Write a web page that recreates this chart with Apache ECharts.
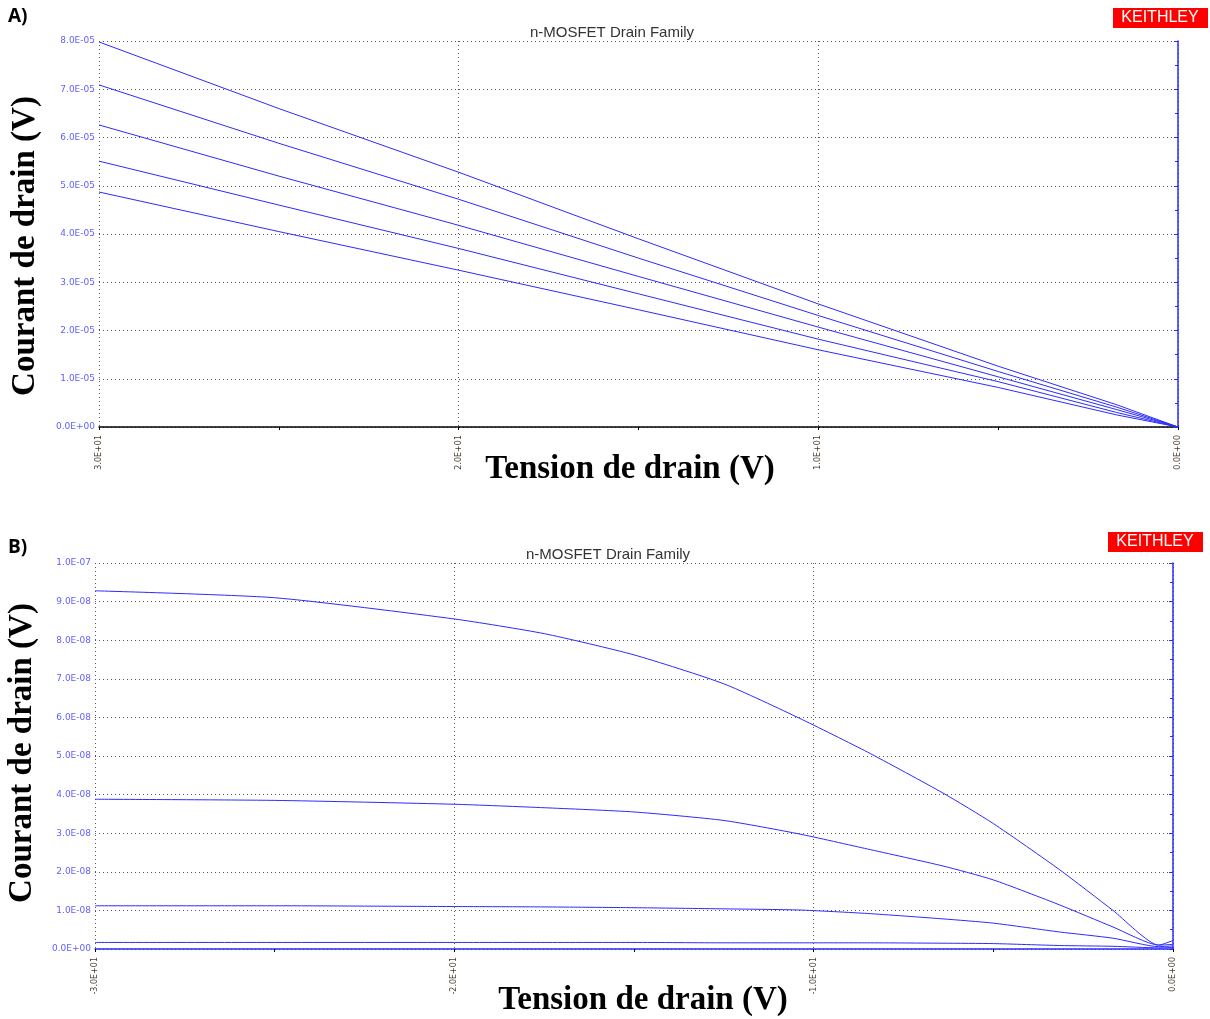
<!DOCTYPE html>
<html>
<head>
<meta charset="utf-8">
<script src="https://cdn.jsdelivr.net/npm/echarts@6/dist/echarts.min.js"></script>
<style>
html,body{margin:0;padding:0;background:#fff;}
#chart{width:1210px;height:1019px;}
</style>
</head>
<body>
<div id="chart"></div>
<script>
// ---------- Data ----------
const titleText = 'n-MOSFET Drain Family';
const yName = 'Courant de drain (V)';
const xName = 'Tension de drain (V)';

// Panel A (x axis shown reversed 30 -> 0)
const vdA = [30, 25, 20, 15, 10, 5, 1.7, 0];
const idA1 = [7.98e-5, 6.60e-5, 5.28e-5, 3.90e-5, 2.55e-5, 1.26e-5, 0.46e-5, 0];
const idA2 = [7.09e-5, 5.88e-5, 4.72e-5, 3.50e-5, 2.31e-5, 1.15e-5, 0.41e-5, 0];
const idA3 = [6.26e-5, 5.20e-5, 4.18e-5, 3.12e-5, 2.07e-5, 1.04e-5, 0.36e-5, 0];
const idA4 = [5.51e-5, 4.60e-5, 3.70e-5, 2.76e-5, 1.82e-5, 0.94e-5, 0.30e-5, 0];
const idA5 = [4.87e-5, 4.05e-5, 3.25e-5, 2.43e-5, 1.60e-5, 0.82e-5, 0.25e-5, 0];

// Panel B
const vdB = [-30, -25, -20, -17.5, -15, -12.5, -10.4, -8.5, -6.4, -5, -3.15, -1.67, -0.4, 0];
const idB1 = [9.28e-8, 9.10e-8, 8.55e-8, 8.17e-8, 7.62e-8, 6.87e-8, 5.98e-8, 5.10e-8, 4.04e-8, 3.25e-8, 2.05e-8, 1.00e-8, 0.10e-8, 0.22e-8];
const idB2 = [3.88e-8, 3.85e-8, 3.75e-8, 3.66e-8, 3.55e-8, 3.33e-8, 2.98e-8, 2.59e-8, 2.15e-8, 1.79e-8, 1.14e-8, 0.57e-8, 0.10e-8, 0.12e-8];
const idB3 = [1.12e-8, 1.12e-8, 1.10e-8, 1.09e-8, 1.07e-8, 1.04e-8, 1.01e-8, 0.92e-8, 0.78e-8, 0.67e-8, 0.44e-8, 0.28e-8, 0.06e-8, 0.08e-8];
const idB4 = [0.17e-8, 0.17e-8, 0.17e-8, 0.17e-8, 0.17e-8, 0.16e-8, 0.16e-8, 0.16e-8, 0.15e-8, 0.14e-8, 0.09e-8, 0.07e-8, 0.03e-8, 0.04e-8];

// ---------- Helpers ----------
function sci(v) {
  if (Math.abs(v) < 1e-20) return '0.0E+00';
  const s = v.toExponential(1);
  const parts = s.split('e');
  const e = parseInt(parts[1], 10);
  return parts[0] + 'E' + (e < 0 ? '-' : '+') + String(Math.abs(e)).padStart(2, '0');
}
function pairs(xs, ys) { return xs.map((x, i) => [x, ys[i]]); }

const LINE = '#2b2bff';
const DOT = { color: '#555', width: 1, type: [1, 3] };

function xAxisDef(gridIndex, min, max, inverse, lineColor) {
  return {
    type: 'value', gridIndex, min, max, interval: 10, inverse,
    axisLine: { show: true, onZero: false, lineStyle: { color: lineColor, width: 1.5 } },
    axisTick: { show: true, length: 3, lineStyle: { color: '#000' } },
    minorTick: { show: true, splitNumber: 2, length: 3, lineStyle: { color: '#000' } },
    splitLine: { show: true, lineStyle: DOT },
    axisLabel: { rotate: 90, margin: 8, fontSize: 8, color: '#4a3d30', fontFamily: 'DejaVu Sans', formatter: sci }
  };
}
function yLeftDef(gridIndex, max, interval) {
  return {
    type: 'value', gridIndex, min: 0, max, interval, position: 'left',
    axisLine: { show: false }, axisTick: { show: false },
    splitLine: { show: true, lineStyle: DOT },
    axisLabel: { margin: 4, fontSize: 9, color: '#6161ff', fontFamily: 'DejaVu Sans', formatter: sci }
  };
}
function yRightDef(gridIndex, max, interval) {
  return {
    type: 'value', gridIndex, min: 0, max, interval, position: 'right',
    axisLine: { show: true, lineStyle: { color: LINE, width: 1.5 } },
    axisTick: { show: true, inside: true, length: 4, lineStyle: { color: LINE } },
    minorTick: { show: true, splitNumber: 2, length: 3, lineStyle: { color: LINE } },
    axisLabel: { show: false }, splitLine: { show: false }
  };
}
function ser(x, y, data, smooth) {
  return { type: 'line', xAxisIndex: x, yAxisIndex: y, data, showSymbol: false, symbol: 'none',
    smooth: smooth || false, lineStyle: { color: LINE, width: 1 }, animation: false };
}

const option = {
  backgroundColor: '#fff',
  animation: false,
  grid: [
    { left: 99, top: 41, width: 1079, height: 386 },
    { left: 95, top: 563, width: 1078, height: 386 }
  ],
  xAxis: [
    xAxisDef(0, 0, 30, true, '#000'),
    xAxisDef(1, -30, 0, false, LINE)
  ],
  yAxis: [
    yLeftDef(0, 8e-5, 1e-5),
    yRightDef(0, 8e-5, 1e-5),
    yLeftDef(1, 1e-7, 1e-8),
    yRightDef(1, 1e-7, 1e-8)
  ],
  series: [
    ser(0, 0, pairs(vdA, idA1)),
    ser(0, 0, pairs(vdA, idA2)),
    ser(0, 0, pairs(vdA, idA3)),
    ser(0, 0, pairs(vdA, idA4)),
    ser(0, 0, pairs(vdA, idA5)),
    ser(1, 2, pairs(vdB, idB1), 0.2),
    ser(1, 2, pairs(vdB, idB2), 0.2),
    ser(1, 2, pairs(vdB, idB3), 0.2),
    ser(1, 2, pairs(vdB, idB4), 0.2)
  ],
  graphic: [
    { type: 'text', left: 8, top: 7, style: { text: 'A)', font: 'bold 19px "Open Sans", sans-serif', fill: '#000' } },
    { type: 'text', left: 8, top: 538, style: { text: 'B)', font: 'bold 19px "Open Sans", sans-serif', fill: '#000' } },
    { type: 'text', x: 612, y: 40, style: { text: titleText, font: '15px "Liberation Sans", Arial, sans-serif', fill: '#333',
        align: 'center', verticalAlign: 'bottom', backgroundColor: '#fff', padding: [0, 1, 0, 1] } },
    { type: 'text', x: 608, y: 562, style: { text: titleText, font: '15px "Liberation Sans", Arial, sans-serif', fill: '#333',
        align: 'center', verticalAlign: 'bottom', backgroundColor: '#fff', padding: [0, 1, 0, 1] } },
    { type: 'rect', shape: { x: 1113, y: 8, width: 95, height: 20 }, style: { fill: '#ff0000' } },
    { type: 'text', x: 1160, y: 18, style: { text: 'KEITHLEY', font: '16px "Liberation Sans", Arial, sans-serif', fill: '#fff', align: 'center', verticalAlign: 'middle' } },
    { type: 'rect', shape: { x: 1108, y: 532, width: 95, height: 20 }, style: { fill: '#ff0000' } },
    { type: 'text', x: 1155, y: 542, style: { text: 'KEITHLEY', font: '16px "Liberation Sans", Arial, sans-serif', fill: '#fff', align: 'center', verticalAlign: 'middle' } },
    { type: 'text', x: 25, y: 246, rotation: Math.PI / 2, style: { text: yName, font: 'bold 33px "Liberation Serif", serif', fill: '#000', align: 'center', verticalAlign: 'middle' } },
    { type: 'text', x: 630, y: 469, style: { text: xName, font: 'bold 33px "Liberation Serif", serif', fill: '#000', align: 'center', verticalAlign: 'middle' } },
    { type: 'text', x: 22, y: 753, rotation: Math.PI / 2, style: { text: yName, font: 'bold 33px "Liberation Serif", serif', fill: '#000', align: 'center', verticalAlign: 'middle' } },
    { type: 'text', x: 643, y: 1000, style: { text: xName, font: 'bold 33px "Liberation Serif", serif', fill: '#000', align: 'center', verticalAlign: 'middle' } }
  ]
};

const chart = echarts.init(document.getElementById('chart'), null, { renderer: 'canvas' });
chart.setOption(option);
</script>
</body>
</html>
